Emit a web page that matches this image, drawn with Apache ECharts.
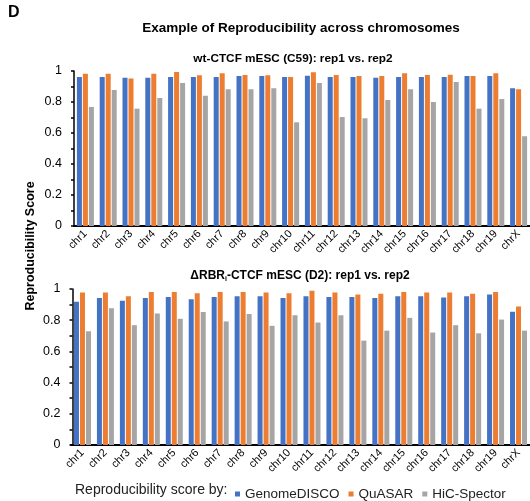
<!DOCTYPE html>
<html>
<head>
<meta charset="utf-8">
<script src="https://cdn.jsdelivr.net/npm/echarts@6/dist/echarts.min.js"></script>
<style>html,body{margin:0;padding:0;background:#fff}#c{width:530px;height:501px}</style>
</head>
<body>
<div id="c"></div>
<script>
const categories = ['chr1','chr2','chr3','chr4','chr5','chr6','chr7','chr8','chr9','chr10','chr11','chr12','chr13','chr14','chr15','chr16','chr17','chr18','chr19','chrX'];
const yTicks = [0, 0.2, 0.4, 0.6, 0.8, 1];

// wt-CTCF mESC (C59)
const wtGenomeDISCO = [0.961,0.961,0.957,0.957,0.961,0.961,0.961,0.968,0.968,0.961,0.970,0.961,0.961,0.957,0.961,0.961,0.961,0.968,0.968,0.888];
const wtQuASAR      = [0.983,0.983,0.951,0.983,0.994,0.972,0.985,0.974,0.973,0.961,0.992,0.974,0.968,0.968,0.985,0.974,0.976,0.968,0.985,0.882];
const wtHiCSpector  = [0.768,0.877,0.757,0.826,0.923,0.841,0.882,0.882,0.888,0.669,0.923,0.703,0.695,0.813,0.882,0.800,0.929,0.757,0.819,0.579];

// ΔRBRi-CTCF mESC (D2)
const dGenomeDISCO = [0.919,0.942,0.925,0.942,0.948,0.935,0.948,0.953,0.953,0.942,0.953,0.948,0.948,0.942,0.953,0.953,0.946,0.953,0.964,0.854];
const dQuASAR      = [0.977,0.977,0.953,0.981,0.981,0.972,0.981,0.981,0.977,0.972,0.989,0.977,0.964,0.970,0.981,0.977,0.977,0.970,0.981,0.888];
const dHiCSpector  = [0.729,0.877,0.768,0.843,0.809,0.852,0.792,0.839,0.764,0.832,0.785,0.832,0.669,0.733,0.815,0.721,0.768,0.716,0.804,0.733];

const seriesNames = ['GenomeDISCO','QuASAR','HiC-Spector'];
const colors = ['#4472C4','#ED7D31','#A5A5A5'];
const FONT = 'Liberation Sans, Arial, sans-serif';

function xAxisFor(idx){
  return {
    type:'category', gridIndex:idx, data:categories,
    axisLine:{lineStyle:{color:'#000', width:2}},
    axisTick:{show:false},
    axisLabel:{rotate:45, fontSize:11, color:'#000', fontFamily:FONT, margin:6, interval:0}
  };
}
function yAxisFor(idx, off){
  return {
    type:'value', gridIndex:idx, min:0, max:1, interval:0.1, offset:off,
    axisLine:{show:true, lineStyle:{color:'#000', width:1.5}},
    axisTick:{show:true, length:3, lineStyle:{color:'#000', width:1.5}},
    splitLine:{show:false},
    axisLabel:{fontSize:12.5, color:'#000', fontFamily:FONT, margin:12,
      formatter:function(v){
        const k = Math.round(v*10);
        if (k % 2 !== 0) return '';
        const t = yTicks.find(x => Math.abs(x - v) < 1e-6);
        return t === undefined ? '' : String(t);
      }}
  };
}
function bars(name, data, color, idx){
  return {name:name, type:'bar', xAxisIndex:idx, yAxisIndex:idx, data:data,
    barWidth:5, barGap:'20%', itemStyle:{color:color}};
}

const chart = echarts.init(document.getElementById('c'), null, {renderer:'canvas'});
chart.setOption({
  animation:false,
  color:colors,
  textStyle:{fontFamily:FONT},
  grid:[
    {left:74, top:71, width:463, height:155},
    {left:71, top:289, width:463, height:156}
  ],
  xAxis:[xAxisFor(0), xAxisFor(1)],
  yAxis:[yAxisFor(0,0), yAxisFor(1,-1.5)],
  legend:{
    left:230, top:482, itemWidth:5, itemHeight:5, itemGap:9, icon:'rect',
    textStyle:{fontSize:13.5, color:'#222', fontFamily:FONT},
    data:seriesNames
  },
  series:[
    bars(seriesNames[0], wtGenomeDISCO, colors[0], 0),
    bars(seriesNames[1], wtQuASAR, colors[1], 0),
    bars(seriesNames[2], wtHiCSpector, colors[2], 0),
    bars(seriesNames[0], dGenomeDISCO, colors[0], 1),
    bars(seriesNames[1], dQuASAR, colors[1], 1),
    bars(seriesNames[2], dHiCSpector, colors[2], 1)
  ],
  graphic:[
    {type:'text', left:8, top:5, style:{text:'D', font:'bold 16px '+FONT, fill:'#000'}},
    {type:'text', x:301, y:28, style:{text:'Example of Reproducibility across chromosomes', font:'bold 13.5px '+FONT, fill:'#000', textAlign:'center', textVerticalAlign:'middle'}},
    {type:'text', x:293, y:59, style:{text:'wt-CTCF mESC (C59): rep1 vs. rep2', font:'bold 11.8px '+FONT, fill:'#000', textAlign:'center', textVerticalAlign:'middle'}},
    {type:'text', x:300, y:276, style:{
      text:'{a|ΔRBR}{s|i}{a|-CTCF mESC (D2): rep1 vs. rep2}',
      rich:{a:{font:'bold 12px '+FONT, fill:'#000'}, s:{font:'bold 7px '+FONT, fill:'#000', padding:[6,0,0,0]}},
      textAlign:'center', textVerticalAlign:'middle'}},
    {type:'text', x:31, y:246, rotation:Math.PI/2, style:{text:'Reproducibility Score', font:'bold 12.5px '+FONT, fill:'#000', textAlign:'center', textVerticalAlign:'middle'}},
    {type:'text', x:75, y:490, style:{text:'Reproducibility score by:', font:'14px '+FONT, fill:'#222', textVerticalAlign:'middle'}}
  ]
});
</script>
</body>
</html>
